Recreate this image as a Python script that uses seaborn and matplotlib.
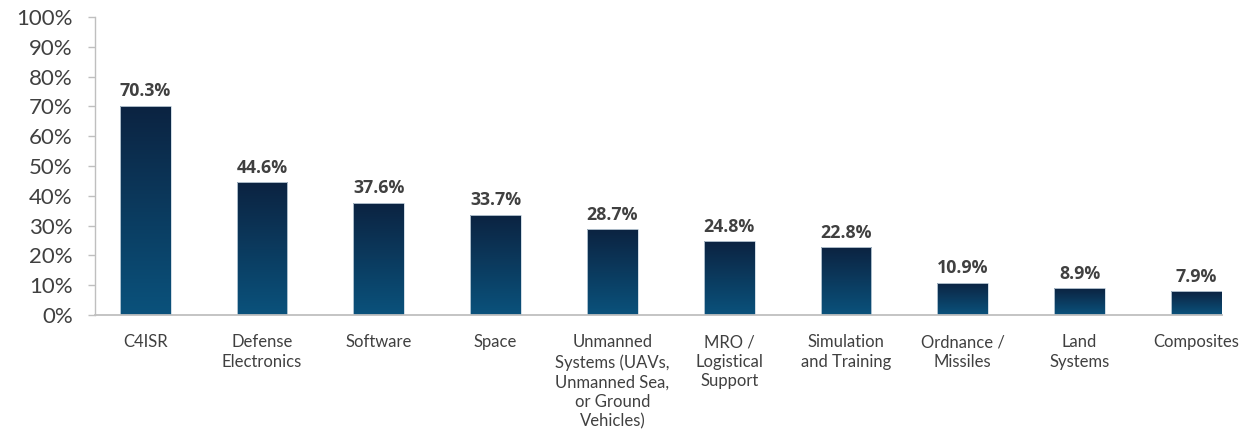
import numpy as np
import pandas as pd
import matplotlib
matplotlib.use("Agg")
import matplotlib.pyplot as plt
from matplotlib.colors import LinearSegmentedColormap
import seaborn as sns

categories = [
    "C4ISR",
    "Defense\nElectronics",
    "Software",
    "Space",
    "Unmanned\nSystems (UAVs,\nUnmanned Sea,\nor Ground\nVehicles)",
    "MRO /\nLogistical\nSupport",
    "Simulation\nand Training",
    "Ordnance /\nMissiles",
    "Land\nSystems",
    "Composites",
]
shares = [70.3, 44.6, 37.6, 33.7, 28.7, 24.8, 22.8, 10.9, 8.9, 7.9]
y_ticks = [0, 10, 20, 30, 40, 50, 60, 70, 80, 90, 100]

sns.set_theme(style="white")
plt.rcParams["font.family"] = ["Lato", "DejaVu Sans"]

TEXT = "#404040"
AXIS = "#bfbfbf"
TOP_COLOR = "#0c2341"
BOTTOM_COLOR = "#0a527c"

df = pd.DataFrame({"category": categories, "share": shares})

fig = plt.figure(figsize=(12.49, 4.29), dpi=100)
ax = fig.add_axes([95 / 1249, 1 - 315 / 429, (1222 - 95) / 1249, (315 - 17) / 429])

sns.barplot(data=df, x="category", y="share", ax=ax, width=0.435,
            color=BOTTOM_COLOR, saturation=1)

# vertical gradient fill, clipped to each bar
cmap = LinearSegmentedColormap.from_list("navy", [BOTTOM_COLOR, TOP_COLOR])
grad = np.linspace(0, 1, 256).reshape(-1, 1)
for patch, val in zip(ax.patches, shares):
    x0, y0 = patch.get_x(), patch.get_y()
    w, h = patch.get_width(), patch.get_height()
    patch.set_facecolor("none")
    patch.set_edgecolor("#c9d6e0")
    patch.set_linewidth(0.6)
    im = ax.imshow(grad, cmap=cmap, origin="lower", aspect="auto",
                   extent=(x0, x0 + w, y0, y0 + h), zorder=patch.get_zorder() - 0.1,
                   interpolation="bicubic")
    im.set_clip_path(patch)
    ax.annotate(f"{val:.1f}%", (x0 + w / 2, y0 + h), xytext=(0, 4),
                textcoords="offset points", ha="center", va="bottom",
                fontsize=12.8, fontweight="bold", color=TEXT,
                family=["Open Sans", "DejaVu Sans"])

ax.set_xlim(-0.43, 9.22)
ax.set_ylim(0, 100)
ax.set_yticks(y_ticks)
ax.set_yticklabels([f"{t}%" for t in y_ticks])
ax.set_xlabel("")
ax.set_ylabel("")

for lbl in ax.get_yticklabels():
    lbl.set_fontsize(16)
    lbl.set_color(TEXT)
for lbl in ax.get_xticklabels():
    lbl.set_fontsize(12)
    lbl.set_color(TEXT)
    lbl.set_linespacing(1.27)
    lbl.set_va("top")

ax.tick_params(axis="y", which="both", left=True, length=5, width=1,
               color=AXIS, pad=11)
ax.tick_params(axis="x", which="both", bottom=False, length=0, pad=14)

sns.despine(ax=ax, top=True, right=True)
ax.spines["left"].set_color(AXIS)
ax.spines["bottom"].set_color(AXIS)
ax.spines["left"].set_linewidth(1)
ax.spines["bottom"].set_linewidth(1.3)
ax.grid(False)

fig.savefig("out.png", dpi=100)
